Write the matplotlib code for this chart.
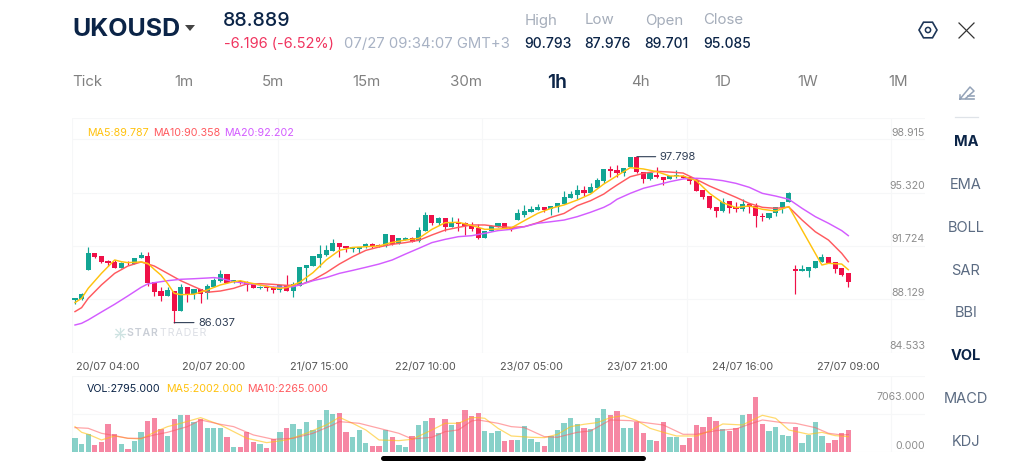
import matplotlib
matplotlib.use("Agg")
import matplotlib.pyplot as plt
from matplotlib.patches import RegularPolygon, Circle

plt.rcParams['font.family'] = ['Inter', 'DejaVu Sans']

# ---------- data ----------
opens = [87.64,87.71,89.77,90.95,90.74,90.41,90.36,89.93,90.33,90.19,90.59,90.76,88.90,88.26,87.93,88.28,86.84,88.54,88.05,88.42,
         88.12,88.56,88.97,89.46,88.90,89.01,88.90,88.78,88.47,88.59,88.52,88.35,88.73,88.31,88.66,89.91,90.07,90.64,90.83,91.09,
         91.71,91.47,91.28,91.28,91.37,91.61,91.54,91.47,92.27,91.66,91.92,92.04,91.82,92.56,93.67,93.12,93.43,92.84,93.17,93.10,
         92.89,92.72,92.06,92.51,92.84,93.08,92.79,93.31,93.64,93.88,94.05,94.21,94.07,94.26,94.45,94.89,95.06,95.44,95.20,95.58,
         96.08,96.93,96.83,96.64,97.04,97.80,96.74,96.24,96.53,96.38,96.19,96.41,96.45,96.38,96.15,95.46,95.01,94.23,93.95,94.68,
         94.26,94.12,94.42,94.33,93.60,93.48,93.78,94.21,94.59,89.81,89.72,89.72,89.93,90.31,90.69,90.31,89.91,89.53]
closes = [87.76,88.07,90.95,90.69,90.31,90.24,89.93,90.29,90.24,90.64,90.81,88.85,88.19,87.93,88.33,86.86,88.54,88.09,88.42,88.09,
          88.64,89.06,89.46,88.87,89.06,88.82,88.71,88.52,88.59,88.47,88.33,88.71,88.31,88.78,90.00,90.12,90.76,90.93,91.19,91.66,
          91.37,91.33,91.37,91.42,91.61,91.47,91.45,92.32,91.59,92.01,92.06,91.73,92.60,93.67,93.12,93.48,92.84,93.17,93.05,92.86,
          92.67,92.04,92.53,92.86,93.10,92.75,92.65,93.78,93.93,94.12,94.21,94.02,94.31,94.52,94.97,95.15,95.41,95.20,95.63,96.17,
          96.93,96.76,96.67,97.00,97.80,96.71,96.22,96.62,96.38,96.17,96.43,96.48,96.31,96.10,95.39,94.97,94.19,93.95,94.61,94.19,
          94.12,94.42,94.26,93.57,93.55,93.81,94.26,94.61,95.20,89.72,89.81,89.96,90.41,90.71,90.29,89.86,89.44,88.89]
highs = [87.81,88.16,91.37,91.00,90.74,90.48,90.48,90.36,90.41,90.64,91.02,91.07,88.90,88.54,88.59,88.28,88.78,88.54,88.42,88.42,
         88.75,89.18,89.74,89.46,89.06,89.06,88.97,88.85,88.66,88.62,88.64,88.73,89.44,88.94,90.00,90.14,90.76,91.54,91.54,91.94,
         91.71,91.47,91.40,91.42,91.71,91.66,91.61,92.32,92.27,92.01,92.08,92.13,92.79,93.88,93.67,93.55,93.43,93.52,93.48,93.17,
         93.19,93.03,92.53,92.96,93.10,93.08,92.82,94.09,94.40,94.28,94.42,94.24,94.33,94.52,95.34,95.39,95.77,95.72,95.96,96.27,
         96.93,97.14,97.21,97.00,97.80,97.80,96.74,96.62,97.04,96.38,96.45,96.88,96.48,96.41,96.15,95.46,95.01,94.23,94.85,94.68,
         94.61,94.78,94.45,94.54,93.83,93.83,94.26,94.61,95.30,90.12,90.12,89.98,90.43,90.88,90.69,90.31,89.91,89.53]
lows = [87.36,87.64,89.77,90.64,90.29,90.08,89.93,89.93,90.12,90.19,90.59,88.66,87.93,87.60,87.93,86.04,86.84,87.52,87.69,87.41,
        87.69,88.56,88.90,88.82,88.87,88.75,88.31,88.47,88.45,88.31,88.12,88.23,88.31,87.88,88.66,88.94,90.07,90.00,90.76,91.09,
        90.71,91.04,91.04,91.00,91.30,91.30,91.37,91.42,91.54,91.61,91.90,91.73,91.73,92.56,92.93,92.96,92.56,92.84,92.51,92.27,
        92.56,91.94,92.04,92.51,92.84,92.75,92.56,93.31,93.55,93.88,94.05,93.90,93.69,93.90,94.45,94.89,94.82,95.01,95.20,95.58,
        95.91,96.38,96.38,96.45,97.04,96.67,95.91,96.15,96.26,95.77,96.19,96.26,96.29,95.86,95.39,94.80,94.07,93.55,93.86,93.78,
        93.90,93.97,93.78,92.84,93.24,93.36,93.60,93.78,94.59,88.07,89.67,89.25,89.93,90.31,90.29,89.53,89.34,88.54]
volumes = [1787,1064,2383,936,1277,3617,2340,1064,468,1447,2553,3957,4340,2936,2085,4255,4766,4766,3915,4255,
           3064,3064,3064,1915,681,638,2553,1319,1064,511,1702,2638,3064,3574,2936,3915,2851,4127,5404,4851,
           4978,2553,1957,2851,1191,851,851,2893,1915,936,638,2128,3489,3957,4425,2425,4213,3489,3830,5404,
           4681,4978,2766,2468,2723,1447,1574,1574,3404,1702,1319,851,2128,2808,3702,4340,3617,3064,2979,4425,
           5489,4808,5276,3149,3106,3915,2468,1617,1489,3872,1915,1915,936,1872,3489,3234,4468,3957,2979,2766,
           3106,4766,4893,7063,3617,2766,3276,2255,2128,3276,1234,2255,3830,2042,1191,1532,2468,2795]

ma5_idx = [0,1,2,4,6,7,8,10,11,12,13,14,15,16,18,20,22,24,25,26,28,30,31,32,34,36,38,40,42,44,46,48,50,52,54,56,58,60,62,64,66,68,
           70,72,74,76,78,80,81,82,84,86,88,90,92,94,96,98,100,102,104,106,108,113,114,116,117]
ma5 = [87.46,87.76,88.47,89.53,90.48,90.36,90.29,90.34,90.24,89.81,89.41,88.82,88.12,88.02,88.05,88.35,88.71,88.94,89.01,88.90,
       88.71,88.52,88.47,88.52,88.90,89.58,90.48,91.16,91.37,91.42,91.47,91.73,91.89,92.01,92.65,93.12,93.15,92.93,92.65,92.67,92.75,93.27,
       93.78,94.14,94.38,94.73,95.15,95.86,96.15,96.45,97.02,96.93,96.74,96.43,96.43,96.10,95.20,94.54,94.19,94.31,94.07,93.95,94.26,90.12,90.24,90.19,89.787]
ma10_idx = [0,1,2,4,6,8,10,12,14,16,18,20,22,24,26,28,30,32,34,36,38,40,42,44,46,48,50,52,54,56,58,60,62,64,66,68,70,72,74,76,78,80,81,
            82,84,86,88,90,92,94,96,98,100,102,104,106,108,110,112,114,116,117]
ma10 = [86.82,87.10,87.76,88.71,89.53,90.05,90.34,90.05,89.53,89.01,88.59,88.19,88.28,88.47,88.78,88.80,88.75,88.68,88.71,89.06,89.58,90.19,90.71,91.16,91.40,91.59,
        91.71,91.87,92.25,92.60,92.79,92.96,92.96,92.84,92.79,92.84,93.12,93.50,93.78,94.33,94.68,95.15,95.48,
        95.79,96.38,96.62,96.76,96.71,96.64,96.19,95.72,95.32,94.92,94.49,94.21,94.14,94.23,93.31,92.48,91.89,90.95,90.358]
ma20_idx = [0,1,2,4,6,8,10,11,12,14,16,18,20,21,22,24,26,28,30,32,33,34,36,38,40,42,44,46,48,50,52,54,56,58,60,62,64,66,68,70,72,74,76,78,80,81,
            82,84,86,88,90,92,94,96,98,100,102,104,106,108,110,112,114,116,117]
ma20 = [85.87,85.99,86.23,86.79,87.34,87.93,88.54,88.78,88.87,89.01,89.11,89.15,89.20,89.23,89.18,88.94,88.82,88.71,88.56,88.54,88.59,88.71,89.01,89.23,89.53,89.74,89.96,90.19,90.48,
        90.90,91.30,91.71,91.94,92.13,92.20,92.37,92.56,92.65,92.84,93.08,93.19,93.31,93.55,93.86,94.21,94.45,
        94.78,95.20,95.56,95.79,96.03,96.22,96.27,96.22,96.10,95.91,95.63,95.20,95.01,94.78,94.14,93.55,93.08,92.56,92.202]

vma5_idx = [0,1,2,4,6,8,10,12,14,16,19,22,24,26,29,32,35,38,40,42,44,46,49,51,54,56,58,60,61,62,64,66,69,71,73,75,77,79,81,83,85,87,89,91,94,96,98,101,102,104,106,108,111,113,115,117]
vma5 = [3276,2553,2298,1574,2085,1787,1702,2553,3276,3702,4425,3489,2638,1787,1234,1574,2425,3489,4468,3702,2851,1574,1489,1660,2851,3702,3702,4425,
        4425,4340,3064,2085,1915,1872,2298,3276,3574,3787,4425,4681,4042,3064,2553,2085,2085,2723,3617,3489,3915,4723,4340,2851,2298,2553,2128,2002]
vma10_idx = [0,2,4,6,8,10,12,14,17,19,22,24,27,30,33,36,39,40,43,46,49,51,54,56,58,60,61,64,66,68,71,73,76,78,81,84,87,89,92,94,97,100,102,104,107,109,112,114,116,117]
vma10 = [3149,3064,2425,2128,1787,1787,2213,2553,3276,4127,3574,3276,2213,1660,1787,2425,3489,3915,3702,3064,2425,1702,1915,2638,2851,4000,
         4127,3702,3276,3149,2000,1915,2553,2723,4127,4042,3702,3489,2298,2298,2766,2979,3574,4127,3787,3702,3149,2425,2213,2265]

tick_idx = [5,21,37,53,69,85,101,117]
tick_dates = ["20/07 04:00","20/07 20:00","21/07 15:00","22/07 10:00","23/07 05:00","23/07 21:00","24/07 16:00","27/07 09:00"]
grid_prices = [100.52,99.03,95.26,91.49,87.69,83.90]
price_labels = ["98.915","95.320","91.724","88.129","84.533"]
price_label_pos = [99.03,95.26,91.49,87.69,83.90]
frames = ["Tick","1m","5m","15m","30m","1h","4h","1D","1W","1M"]
frame_x = [87,184,273,366,466,557,640,723,808,898]
menu = ["MA","EMA","BOLL","SAR","BBI","VOL","MACD","KDJ"]
menu_y = [141,184,227,270,312,355,398,441]

NAVY = '#0b2447'; GREEN = '#12a594'; RED = '#ef1048'
C5 = '#ffc20e'; C10 = '#ff5a5f'; C20 = '#d35cff'; GRID = '#f6f7f8'; GREY = '#8d8d8d'
W, H = 1024, 471

fig = plt.figure(figsize=(W/100, H/100), dpi=100, facecolor='white')

def box(l, t, r, b):
    return [l/W, 1-b/H, (r-l)/W, (b-t)/H]

x = list(range(len(opens)))
xlim = (-0.454, 128.6)
vgrid = [-0.38, 30.64, 61.65, 92.66, 123.5]

# ---------- price panel ----------
ax = fig.add_axes(box(72, 118.3, 925, 352.8))
ax.set_xlim(xlim); ax.set_ylim(83.90, 100.52)
for s in ax.spines.values(): s.set_visible(False)
ax.set_yticks(grid_prices); ax.set_yticklabels([])
ax.set_xticks(tick_idx); ax.set_xticklabels(tick_dates, fontsize=7.8, color='#555555')
ax.tick_params(length=0, pad=6.5)
ax.grid(axis='y', color=GRID, lw=0.8); ax.set_axisbelow(True)
for v in vgrid: ax.axvline(v, color=GRID, lw=0.8, zorder=0)

cols = [RED if c < o else GREEN for o, c in zip(opens, closes)]
ax.vlines(x, lows, highs, colors=cols, lw=0.85, zorder=2)
ax.bar(x, [max(abs(c-o), 0.04) for o, c in zip(opens, closes)], bottom=[min(o, c) for o, c in zip(opens, closes)],
       width=0.78, color=cols, lw=0, zorder=3)
ax.plot(ma5_idx, ma5, color=C5, lw=1.05, zorder=5)
ax.plot(ma10_idx, ma10, color=C10, lw=1.05, zorder=4)
ax.plot(ma20_idx, ma20, color=C20, lw=1.05, zorder=4)

for t, p in zip(price_labels, price_label_pos):
    ax.annotate(t, xy=(1, p), xycoords=('axes fraction', 'data'), xytext=(0, 6.5), textcoords='offset pixels',
                ha='right', va='center', fontsize=7.6, color=GREY)

hi_i = 85; lo_i = 15
ax.annotate("97.798", xy=(hi_i, highs[hi_i]), xytext=(23, 0), textcoords='offset pixels', ha='left', va='center',
            fontsize=8, color='#2f3e55', arrowprops=dict(arrowstyle='-', color='#2f3e55', lw=0.8, shrinkA=1, shrinkB=0))
ax.annotate("86.037", xy=(lo_i, lows[lo_i]), xytext=(24, 0), textcoords='offset pixels', ha='left', va='center',
            fontsize=8, color='#2f3e55', arrowprops=dict(arrowstyle='-', color='#2f3e55', lw=0.8, shrinkA=1, shrinkB=0))

# ---------- volume panel ----------
av = fig.add_axes(box(72, 376, 925, 452.3))
av.set_xlim(xlim); av.set_ylim(0, 9740)
for s in av.spines.values(): s.set_visible(False)
av.set_xticks([]); av.set_yticks([0, 4851, 9740]); av.set_yticklabels([])
av.tick_params(length=0)
av.grid(axis='y', color=GRID, lw=0.8); av.set_axisbelow(True)
for v in vgrid: av.axvline(v, color=GRID, lw=0.8, zorder=0)
av.bar(x, volumes, width=0.8, color=cols, alpha=0.5, lw=0, zorder=2)
av.plot(vma5_idx, vma5, color=C5, lw=0.9, alpha=0.6, zorder=3)
av.plot(vma10_idx, vma10, color=C10, lw=0.9, alpha=0.55, zorder=3)
av.annotate("7063.000", xy=(1, 7063), xycoords=('axes fraction', 'data'), ha='right', va='center', fontsize=7.6, color=GREY)
av.annotate("0.000", xy=(1, 0), xycoords=('axes fraction', 'data'), xytext=(0, 6), textcoords='offset pixels',
            ha='right', va='center', fontsize=7.6, color=GREY)

# ---------- interface, in pixel coordinates ----------
ui = fig.add_axes([0, 0, 1, 1], facecolor='none')
ui.set_xlim(0, W); ui.set_ylim(H, 0); ui.axis('off')

def T(px, py, s, **kw):
    kw.setdefault('va', 'center')
    ui.text(px, py + 1, s, **kw)

T(72, 28.5, "UKOUSD", fontsize=18, fontweight='bold', color=NAVY)
ui.fill([185, 195, 190], [25, 25, 31], color='#444444', lw=0)
T(223, 19.5, "88.889", fontsize=14, fontweight='medium', color=NAVY)
T(224, 43.5, "-6.196 (-6.52%)", fontsize=10.5, color='#f0345f')
T(344, 43.5, "07/27 09:34:07 GMT+3", fontsize=10.7, color='#a8b2c4')
for px, s in zip([525, 585, 645, 703], ["High", "Low", "Open", "Close"]):
    T(px, 19.5, s, fontsize=10.8, color='#a5adba')
for px, s in zip([524, 584, 644, 703], ["90.793", "87.976", "89.701", "95.085"]):
    T(px, 43.5, s, fontsize=10, fontweight='medium', color=NAVY)
for px, s in zip(frame_x, frames):
    if s == "1h":
        T(px, 81.5, s, fontsize=14, fontweight='semibold', color=NAVY, ha='center')
    else:
        T(px, 81.5, s, fontsize=10.8, color='#808080', ha='center')
for py, s in zip(menu_y, menu):
    bold = s in ("MA", "VOL")
    T(966, py, s, fontsize=10.5, fontweight='bold' if bold else 'normal', color=NAVY if bold else '#5b6b82', ha='center')

T(87, 131.5, "MA5:89.787", fontsize=7.7, color=C5)
T(153, 131.5, "MA10:90.358", fontsize=7.7, color=C10)
T(224, 131.5, "MA20:92.202", fontsize=7.7, color=C20)
T(87, 388.5, "VOL:2795.000", fontsize=7.7, color=NAVY)
T(166, 388.5, "MA5:2002.000", fontsize=7.7, color=C5)
T(247, 388.5, "MA10:2265.000", fontsize=7.7, color=C10)

# watermark
hs = '\u200a'
T(127, 332.5, hs.join("STAR") , fontsize=7.6, fontweight='semibold', color='#c9ced6')
T(160, 332.5, hs.join("TRADER"), fontsize=7.6, color='#dcdfe5')
ui.plot([120, 120], [328, 339], color='#cfe3e2', lw=0.9)
ui.plot([115, 125], [333.5, 333.5], color='#cfe3e2', lw=0.9)
ui.plot([116, 124], [329.5, 337.5], color='#cfe3e2', lw=0.9)
ui.plot([124, 116], [329.5, 337.5], color='#cfe3e2', lw=0.9)

# icons
ui.add_patch(RegularPolygon((928, 30), 6, radius=9, orientation=0.5236, fill=False, ec='#1d3557', lw=1.2))
ui.add_patch(Circle((928, 30), 2.6, fill=False, ec='#1d3557', lw=1.1))
ui.plot([959, 974], [23, 38], color='#333333', lw=0.9)
ui.plot([974, 959], [23, 38], color='#333333', lw=0.9)
ui.plot([960, 960, 970, 974, 965, 960], [95, 99, 87, 91, 99, 99], color='#94a3b8', lw=1.1)
ui.plot([966, 974], [99, 99], color='#94a3b8', lw=1.2)
ui.plot([968, 974], [96, 96], color='#94a3b8', lw=1.2)
ui.plot([955, 978], [117, 117], color='#dfe3e8', lw=0.9)

# home bar
ui.plot([383, 643], [458.3, 458.3], color='black', lw=3.6, solid_capstyle='round')

fig.savefig("out.png", dpi=100, facecolor='white')
